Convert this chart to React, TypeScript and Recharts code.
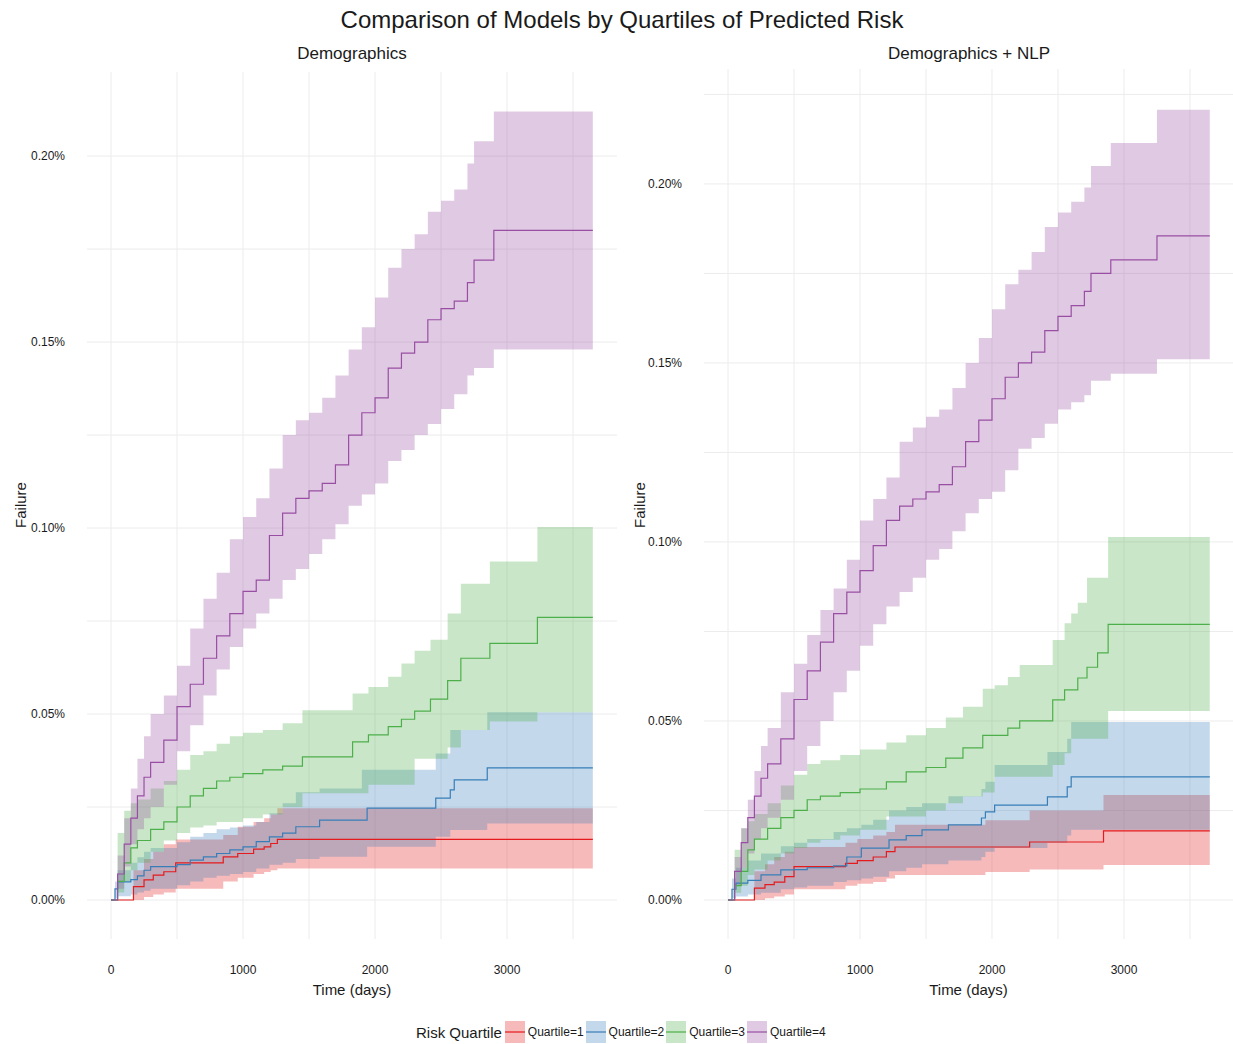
import { ComposedChart, Line, Area, XAxis, YAxis, CartesianGrid } from "recharts"

// ---- data (failure in %, time in days) ----
const quartileNames = ["Quartile=1", "Quartile=2", "Quartile=3", "Quartile=4"]
const quartileColors = ["#E41A1C", "#377EB8", "#4DAF4A", "#984EA3"]
const xTicks = [0, 500, 1000, 1500, 2000, 2500, 3000, 3500]
const demoYTicks = [0, 0.025, 0.05, 0.075, 0.1, 0.125, 0.15, 0.175, 0.2]
const nlpYTicks = [0, 0.025, 0.05, 0.075, 0.1, 0.125, 0.15, 0.175, 0.2, 0.225]

// Demographics
const demoQ1Time = [0, 170, 250, 320, 400, 490, 850, 960, 1080, 1160, 1210, 1260, 3650]
const demoQ1Fail = [0, 0.0036, 0.0054, 0.0067, 0.0076, 0.01, 0.0116, 0.0125, 0.0137, 0.0143, 0.0152, 0.0163, 0.0163]
const demoQ1Low = [0, 0, 0.0008, 0.0015, 0.002, 0.003, 0.005, 0.006, 0.007, 0.0075, 0.008, 0.0085, 0.0085]
const demoQ1Up = [0, 0.008, 0.011, 0.013, 0.015, 0.0163, 0.0175, 0.0197, 0.021, 0.022, 0.023, 0.0247, 0.0247]

const demoQ2Time = [0, 30, 50, 150, 200, 250, 300, 500, 600, 700, 800, 900, 1000, 1100, 1200, 1300, 1400, 1580, 1900, 1940, 2460, 2570, 2600, 2850, 3650]
const demoQ2Fail = [0, 0.003, 0.0049, 0.0055, 0.0065, 0.008, 0.009, 0.0095, 0.0107, 0.0116, 0.0125, 0.0135, 0.0143, 0.0157, 0.017, 0.018, 0.0197, 0.0215, 0.0215, 0.0247, 0.0274, 0.0296, 0.0323, 0.0355, 0.0355]
const demoQ2Low = [0, 0.0005, 0.001, 0.0015, 0.002, 0.0025, 0.003, 0.004, 0.005, 0.006, 0.0065, 0.007, 0.0075, 0.0085, 0.0095, 0.01, 0.011, 0.0116, 0.0116, 0.0143, 0.017, 0.0188, 0.0188, 0.0206, 0.0206]
const demoQ2Up = [0, 0.005, 0.008, 0.01, 0.0115, 0.013, 0.014, 0.0155, 0.017, 0.018, 0.019, 0.0195, 0.02, 0.021, 0.0233, 0.026, 0.029, 0.03, 0.035, 0.035, 0.0394, 0.0457, 0.0457, 0.0505, 0.0505]

const demoQ3Time = [0, 50, 100, 150, 200, 300, 400, 500, 600, 700, 800, 900, 1000, 1150, 1300, 1450, 1600, 1830, 1950, 2100, 2200, 2300, 2420, 2550, 2650, 2870, 3230, 3650]
const demoQ3Fail = [0, 0.005, 0.01, 0.014, 0.016, 0.019, 0.021, 0.025, 0.028, 0.03, 0.032, 0.033, 0.034, 0.035, 0.036, 0.0385, 0.0385, 0.0425, 0.0444, 0.0466, 0.0486, 0.0508, 0.054, 0.059, 0.065, 0.069, 0.076, 0.076]
const demoQ3Low = [0, 0.002, 0.005, 0.008, 0.01, 0.013, 0.016, 0.018, 0.0195, 0.02, 0.021, 0.021, 0.022, 0.023, 0.025, 0.0287, 0.0287, 0.0287, 0.031, 0.031, 0.031, 0.038, 0.038, 0.041, 0.0457, 0.048, 0.0505, 0.0505]
const demoQ3Up = [0, 0.018, 0.024, 0.026, 0.027, 0.03, 0.032, 0.035, 0.039, 0.04, 0.042, 0.044, 0.045, 0.0457, 0.0475, 0.051, 0.051, 0.0555, 0.0573, 0.06, 0.0636, 0.067, 0.07, 0.077, 0.085, 0.091, 0.1003, 0.1003]

const demoQ4Time = [0, 50, 100, 150, 200, 250, 300, 400, 500, 600, 700, 800, 900, 1000, 1100, 1200, 1300, 1400, 1500, 1600, 1700, 1800, 1900, 2000, 2100, 2200, 2300, 2400, 2500, 2600, 2700, 2750, 2900, 3650]
const demoQ4Fail = [0, 0.007, 0.015, 0.022, 0.028, 0.033, 0.037, 0.043, 0.052, 0.058, 0.065, 0.071, 0.077, 0.083, 0.086, 0.098, 0.104, 0.108, 0.11, 0.112, 0.117, 0.125, 0.131, 0.135, 0.143, 0.147, 0.15, 0.156, 0.159, 0.161, 0.166, 0.172, 0.18, 0.18]
const demoQ4Low = [0, 0.003, 0.009, 0.015, 0.019, 0.022, 0.025, 0.031, 0.04, 0.047, 0.055, 0.062, 0.068, 0.073, 0.077, 0.081, 0.086, 0.089, 0.093, 0.097, 0.101, 0.106, 0.109, 0.112, 0.118, 0.121, 0.125, 0.128, 0.132, 0.136, 0.141, 0.143, 0.148, 0.148]
const demoQ4Up = [0, 0.012, 0.022, 0.03, 0.038, 0.044, 0.05, 0.055, 0.063, 0.073, 0.081, 0.088, 0.097, 0.103, 0.108, 0.116, 0.125, 0.129, 0.131, 0.135, 0.141, 0.148, 0.154, 0.162, 0.17, 0.175, 0.179, 0.185, 0.188, 0.191, 0.198, 0.204, 0.212, 0.212]

// Demographics + NLP
const nlpQ1Time = [0, 200, 280, 350, 430, 500, 890, 980, 1100, 1200, 1265, 1950, 2285, 2845, 3650]
const nlpQ1Fail = [0, 0.0033, 0.0043, 0.005, 0.0065, 0.0093, 0.0102, 0.011, 0.012, 0.0135, 0.0148, 0.0148, 0.0162, 0.0193, 0.0193]
const nlpQ1Low = [0, 0, 0.0005, 0.001, 0.0015, 0.003, 0.004, 0.0045, 0.005, 0.006, 0.007, 0.0078, 0.0085, 0.0098, 0.0098]
const nlpQ1Up = [0, 0.008, 0.01, 0.012, 0.0135, 0.0148, 0.016, 0.017, 0.018, 0.019, 0.021, 0.0223, 0.025, 0.0293, 0.0293]

const nlpQ2Time = [0, 30, 60, 150, 250, 400, 500, 600, 800, 900, 1010, 1100, 1220, 1350, 1470, 1670, 1920, 1950, 2020, 2420, 2570, 2600, 3650]
const nlpQ2Fail = [0, 0.003, 0.0047, 0.0055, 0.007, 0.0084, 0.0085, 0.009, 0.0095, 0.012, 0.0145, 0.0145, 0.0168, 0.018, 0.0196, 0.021, 0.0229, 0.0246, 0.0265, 0.0288, 0.0316, 0.0344, 0.0344]
const nlpQ2Low = [0, 0.0005, 0.001, 0.0015, 0.002, 0.003, 0.0035, 0.004, 0.005, 0.0055, 0.006, 0.0065, 0.008, 0.009, 0.01, 0.011, 0.012, 0.0135, 0.0145, 0.016, 0.018, 0.0196, 0.0196]
const nlpQ2Up = [0, 0.006, 0.009, 0.011, 0.013, 0.015, 0.016, 0.017, 0.019, 0.02, 0.021, 0.0224, 0.025, 0.026, 0.027, 0.029, 0.031, 0.033, 0.0377, 0.0413, 0.045, 0.0497, 0.0497]

const nlpQ3Time = [0, 50, 100, 150, 200, 300, 400, 500, 600, 700, 850, 1000, 1200, 1350, 1500, 1650, 1780, 1930, 2020, 2120, 2210, 2460, 2550, 2600, 2650, 2720, 2800, 2880, 3650]
const nlpQ3Fail = [0, 0.004, 0.008, 0.014, 0.017, 0.02, 0.023, 0.025, 0.028, 0.029, 0.03, 0.031, 0.033, 0.0358, 0.037, 0.0396, 0.0425, 0.046, 0.046, 0.048, 0.05, 0.0559, 0.0587, 0.0587, 0.062, 0.065, 0.069, 0.077, 0.077]
const nlpQ3Low = [0, 0.002, 0.004, 0.007, 0.0085, 0.011, 0.013, 0.0145, 0.016, 0.0168, 0.018, 0.0196, 0.0233, 0.0233, 0.025, 0.027, 0.0289, 0.03, 0.0344, 0.0344, 0.0344, 0.0377, 0.041, 0.045, 0.045, 0.045, 0.045, 0.0528, 0.0528]
const nlpQ3Up = [0, 0.014, 0.02, 0.022, 0.024, 0.027, 0.032, 0.035, 0.038, 0.039, 0.0405, 0.042, 0.044, 0.046, 0.048, 0.051, 0.054, 0.059, 0.06, 0.0623, 0.0656, 0.0726, 0.0773, 0.08, 0.083, 0.09, 0.09, 0.1014, 0.1014]

const nlpQ4Time = [0, 50, 100, 150, 200, 250, 300, 400, 500, 600, 700, 800, 900, 1000, 1100, 1200, 1300, 1400, 1500, 1600, 1700, 1800, 1900, 2000, 2100, 2200, 2300, 2400, 2500, 2600, 2700, 2750, 2900, 3250, 3650]
const nlpQ4Fail = [0, 0.008, 0.016, 0.023, 0.029, 0.034, 0.038, 0.045, 0.056, 0.064, 0.072, 0.08, 0.086, 0.092, 0.099, 0.106, 0.11, 0.112, 0.114, 0.116, 0.121, 0.128, 0.134, 0.14, 0.146, 0.15, 0.153, 0.159, 0.163, 0.166, 0.17, 0.175, 0.1788, 0.1855, 0.1855]
const nlpQ4Low = [0, 0.004, 0.009, 0.013, 0.017, 0.02, 0.023, 0.028, 0.036, 0.043, 0.05, 0.058, 0.064, 0.071, 0.077, 0.082, 0.086, 0.09, 0.095, 0.098, 0.103, 0.108, 0.112, 0.114, 0.12, 0.126, 0.129, 0.133, 0.137, 0.139, 0.141, 0.145, 0.147, 0.151, 0.151]
const nlpQ4Up = [0, 0.012, 0.02, 0.028, 0.036, 0.043, 0.048, 0.058, 0.066, 0.074, 0.081, 0.087, 0.095, 0.106, 0.112, 0.118, 0.128, 0.132, 0.135, 0.137, 0.143, 0.15, 0.157, 0.165, 0.172, 0.176, 0.181, 0.188, 0.192, 0.195, 0.199, 0.205, 0.2114, 0.2207, 0.2207]

type Row = { t: number; fail: number; band: [number, number] }

function rows(t: number[], fail: number[], lo: number[], hi: number[]): Row[] {
  return t.map((d, i) => ({ t: d, fail: fail[i], band: [lo[i], hi[i]] }))
}

const demoSeries = [
  rows(demoQ1Time, demoQ1Fail, demoQ1Low, demoQ1Up),
  rows(demoQ2Time, demoQ2Fail, demoQ2Low, demoQ2Up),
  rows(demoQ3Time, demoQ3Fail, demoQ3Low, demoQ3Up),
  rows(demoQ4Time, demoQ4Fail, demoQ4Low, demoQ4Up),
]
const nlpSeries = [
  rows(nlpQ1Time, nlpQ1Fail, nlpQ1Low, nlpQ1Up),
  rows(nlpQ2Time, nlpQ2Fail, nlpQ2Low, nlpQ2Up),
  rows(nlpQ3Time, nlpQ3Fail, nlpQ3Low, nlpQ3Up),
  rows(nlpQ4Time, nlpQ4Fail, nlpQ4Low, nlpQ4Up),
]

const FONT = '"Liberation Sans", Arial, Helvetica, sans-serif'
const TEXT = "#1a1a1a"

const fmtY = (v: number) => (Math.abs(v / 0.05 - Math.round(v / 0.05)) < 1e-6 ? `${v.toFixed(2)}%` : "")
const fmtX = (v: number) => (v % 1000 === 0 ? String(v) : "")

interface PanelProps {
  series: Row[][]
  yTicks: number[]
  yDomain: [number, number]
  xMax: number
  width: number
  marginTop: number
  marginRight: number
}

function Panel({ series, yTicks, yDomain, xMax, width, marginTop, marginRight }: PanelProps) {
  return (
    <ComposedChart width={width} height={1000} margin={{ top: marginTop, right: marginRight, bottom: 1, left: 0 }}>
      <CartesianGrid stroke="#ececec" strokeWidth={1} syncWithTicks />
      <XAxis
        type="number"
        dataKey="t"
        domain={[-182, xMax]}
        ticks={xTicks}
        interval={0}
        allowDataOverflow
        tickFormatter={fmtX}
        axisLine={false}
        tickLine={false}
        tickSize={0}
        tickMargin={26}
        height={60}
        tick={{ fontSize: 12, fill: TEXT }}
        label={{ value: "Time (days)", position: "insideBottom", offset: 4, fontSize: 15, fill: TEXT }}
      />
      <YAxis
        type="number"
        domain={yDomain}
        ticks={yTicks}
        interval={0}
        allowDataOverflow
        tickFormatter={fmtY}
        axisLine={false}
        tickLine={false}
        tickSize={0}
        tickMargin={22}
        width={87}
        tick={{ fontSize: 12, fill: TEXT }}
      />
      {series.map((d, i) => (
        <Line
          key={`l${i}`}
          data={d}
          dataKey="fail"
          type="stepAfter"
          stroke={quartileColors[i]}
          strokeWidth={1.2}
          dot={false}
          activeDot={false}
          isAnimationActive={false}
        />
      ))}
      {series.map((d, i) => (
        <Area
          key={`a${i}`}
          data={d}
          dataKey="band"
          type="stepAfter"
          stroke="none"
          fill={quartileColors[i]}
          fillOpacity={0.3}
          activeDot={false}
          isAnimationActive={false}
        />
      ))}
    </ComposedChart>
  )
}

const abs = (left: number, top: number, extra: object = {}) => ({
  position: "absolute" as const,
  left,
  top,
  whiteSpace: "nowrap" as const,
  ...extra,
})

export default function App() {
  return (
    <div style={{ position: "relative", width: 1233, height: 1044, background: "#fff", fontFamily: FONT, color: TEXT, overflow: "hidden" }}>
      <style>{"body{margin:0}"}</style>
      <div style={abs(0, 0)}>
        <Panel series={demoSeries} yTicks={demoYTicks} yDomain={[-0.01048, 0.2226]} xMax={3833} width={620} marginTop={72} marginRight={3} />
      </div>
      <div style={abs(617, 0)}>
        <Panel series={nlpSeries} yTicks={nlpYTicks} yDomain={[-0.0109, 0.2321]} xMax={3826} width={616} marginTop={69} marginRight={0} />
      </div>

      <div style={abs(622, 6, { transform: "translateX(-50%)", fontSize: 24 })}>Comparison of Models by Quartiles of Predicted Risk</div>
      <div style={abs(352, 44, { transform: "translateX(-50%)", fontSize: 17 })}>Demographics</div>
      <div style={abs(969, 44, { transform: "translateX(-50%)", fontSize: 17 })}>Demographics + NLP</div>
      <div style={abs(20, 505, { transform: "translate(-50%, -50%) rotate(-90deg)", fontSize: 15 })}>Failure</div>
      <div style={abs(639, 505, { transform: "translate(-50%, -50%) rotate(-90deg)", fontSize: 15 })}>Failure</div>

      <div style={abs(416, 1021, { display: "flex", alignItems: "center", height: 22 })}>
        <span style={{ fontSize: 15, marginRight: 3 }}>Risk Quartile</span>
        {quartileNames.map((name, i) => (
          <span key={name} style={{ display: "flex", alignItems: "center" }}>
            <svg width={20} height={22}>
              <rect x={0} y={0} width={20} height={22} fill={quartileColors[i]} fillOpacity={0.3} />
              <line x1={0} x2={20} y1={11} y2={11} stroke={quartileColors[i]} strokeWidth={1.2} />
            </svg>
            <span style={{ fontSize: 12, marginLeft: 3, marginRight: 2 }}>{name}</span>
          </span>
        ))}
      </div>
    </div>
  )
}
